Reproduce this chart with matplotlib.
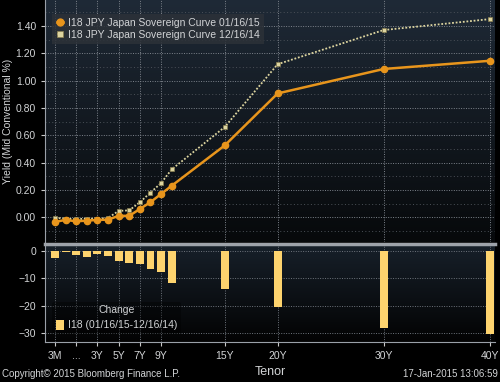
import numpy as np
import matplotlib.pyplot as plt
from matplotlib.colors import LinearSegmentedColormap

plt.rcParams['font.family'] = ['Liberation Sans Narrow', 'Liberation Sans', 'DejaVu Sans']

# curve data
tenors = ['3M', '6M', '1Y', '2Y', '3Y', '4Y', '5Y', '6Y', '7Y', '8Y', '9Y', '10Y', '15Y', '20Y', '30Y', '40Y']
tenor_pos = [-1, 0, 1, 2, 3, 4, 5, 6, 7, 8, 9, 10, 15, 20, 30, 40]
yield_0116 = [-0.034, -0.02, -0.03, -0.025, -0.02, -0.018, 0.01, 0.01, 0.06, 0.11, 0.17, 0.23, 0.525, 0.906, 1.085, 1.145]
yield_1216 = [-0.005, -0.01, -0.015, -0.01, -0.012, -0.005, 0.046, 0.05, 0.11, 0.18, 0.25, 0.35, 0.66, 1.12, 1.37, 1.45]
change_bp = [-2.7, -0.5, -1.3, -2.3, -1.1, -1.7, -3.5, -4.5, -4.9, -6.5, -7.8, -11.8, -13.8, -20.6, -28.3, -30.2]

tick_tenors = ['3M', '1Y', '3Y', '5Y', '7Y', '9Y', '15Y', '20Y', '30Y', '40Y']
tick_labels = ['3M', '...', '3Y', '5Y', '7Y', '9Y', '15Y', '20Y', '30Y', '40Y']

pos = dict(zip(tenors, tenor_pos))
ticks = [pos[t] for t in tick_tenors]

txt = '#d2d4d6'
orange = '#e8951c'
pale = '#ddd5a0'
bar_col = '#fdd36e'

fig = plt.figure(figsize=(5, 3.82), dpi=100, facecolor='black')
ax1 = fig.add_axes([0.09, 0.366, 0.9, 0.634])
ax2 = fig.add_axes([0.09, 0.1055, 0.9, 0.2558])

def gradient(ax, top, bottom):
    cm = LinearSegmentedColormap.from_list('g', [bottom, top])
    g = np.linspace(0, 1, 256).reshape(-1, 1)
    ax.imshow(g, cmap=cm, extent=[0, 1, 0, 1], transform=ax.transAxes,
              aspect='auto', origin='lower', zorder=-10)

gradient(ax1, '#1f2a37', '#07090b')
gradient(ax2, '#17202a', '#030303')

# upper panel
ax1.plot(tenor_pos, yield_1216, color=pale, lw=1.3, ls=(0, (1, 1)), marker='s', ms=3.5,
         mfc=pale, mec='#8a7f50', mew=0.5, label='I18 JPY Japan Sovereign Curve 12/16/14', zorder=3)
ax1.plot(tenor_pos, yield_0116, color=orange, lw=1.8, marker='o', ms=4.5,
         mfc=orange, mec=orange, label='I18 JPY Japan Sovereign Curve 01/16/15', zorder=4)
h, l = ax1.get_legend_handles_labels()
leg = ax1.legend(h[::-1], l[::-1], loc='upper left', bbox_to_anchor=(0.005, 0.965),
                 fontsize=7.5, frameon=True, facecolor='#2c3138', edgecolor='none',
                 framealpha=0.85, handlelength=0.6, handletextpad=0.5, borderpad=0.4,
                 labelspacing=0.2, markerscale=1.1)
for t in leg.get_texts():
    t.set_color(txt)
leg.get_frame().set_boxstyle('square', pad=0)

ax1.set_xlim(-1.95, 40.5)
ax1.set_ylim(-0.183, 1.59)
ax1.set_yticks(np.arange(0, 1.5, 0.2))
ax1.set_yticks(np.arange(-0.1, 1.6, 0.2), minor=True)
ax1.set_yticklabels(['%.2f' % v for v in np.arange(0, 1.5, 0.2)])
ax1.set_xticks(ticks)
ax1.tick_params(axis='x', length=0, labelbottom=False)
ax1.tick_params(axis='y', which='major', colors='#c8c8c8', labelcolor=txt, labelsize=7.5, length=3)
ax1.tick_params(axis='y', which='minor', length=0)
ax1.grid(which='major', color='#7e848c', ls=(0, (1, 1.5)), lw=0.7)
ax1.yaxis.grid(which='minor', color='#4b5058', ls=(0, (1, 2.5)), lw=0.7)
ax1.set_axisbelow(True)
for s in ['top', 'right', 'bottom']:
    ax1.spines[s].set_visible(False)
ax1.spines['left'].set_color('#9aa0a8')
ax1.set_ylabel('Yield (Mid Conventional %)', color=txt, fontsize=7.5)
ax1.yaxis.set_label_coords(-0.072, 0.5)

# lower panel
ax2.bar(tenor_pos, change_bp, width=0.75, color=bar_col, zorder=3,
        label='I18 (01/16/15-12/16/14)')
ax2.set_xlim(-1.95, 40.5)
ax2.set_ylim(-33.2, 2.6)
ax2.set_yticks([0, -10, -20, -30])
ax2.set_xticks(ticks)
ax2.set_xticklabels(tick_labels)
ax2.tick_params(colors='#c8c8c8', labelcolor=txt, labelsize=7.5, length=3)
ax2.grid(color='#6f757d', ls=(0, (1, 1.5)), lw=0.7)
ax2.set_axisbelow(True)
ax2.spines['right'].set_visible(False)
ax2.spines['top'].set_color('#9ea3aa')
ax2.spines['top'].set_linewidth(2.5)
for s in ['left', 'bottom']:
    ax2.spines[s].set_color('#9aa0a8')
ax2.set_xlabel('Tenor', color=txt, fontsize=9, labelpad=4)
leg2 = ax2.legend(loc='lower left', bbox_to_anchor=(0.005, 0.03), title='Change',
                  fontsize=7.5, title_fontsize=7.5, frameon=True, facecolor='#000000',
                  edgecolor='none', framealpha=0.35, handlelength=0.8, handleheight=1.0,
                  handletextpad=0.4, borderpad=0.3)
leg2.get_title().set_color(txt)
for t in leg2.get_texts():
    t.set_color(txt)

fig.text(0.004, 0.012, 'Copyright\u00a9 2015 Bloomberg Finance L.P.', color=txt, fontsize=7)
fig.text(0.996, 0.012, '17-Jan-2015 13:06:59', color=txt, fontsize=7, ha='right')

fig.savefig('out.png', dpi=100, facecolor='black')
